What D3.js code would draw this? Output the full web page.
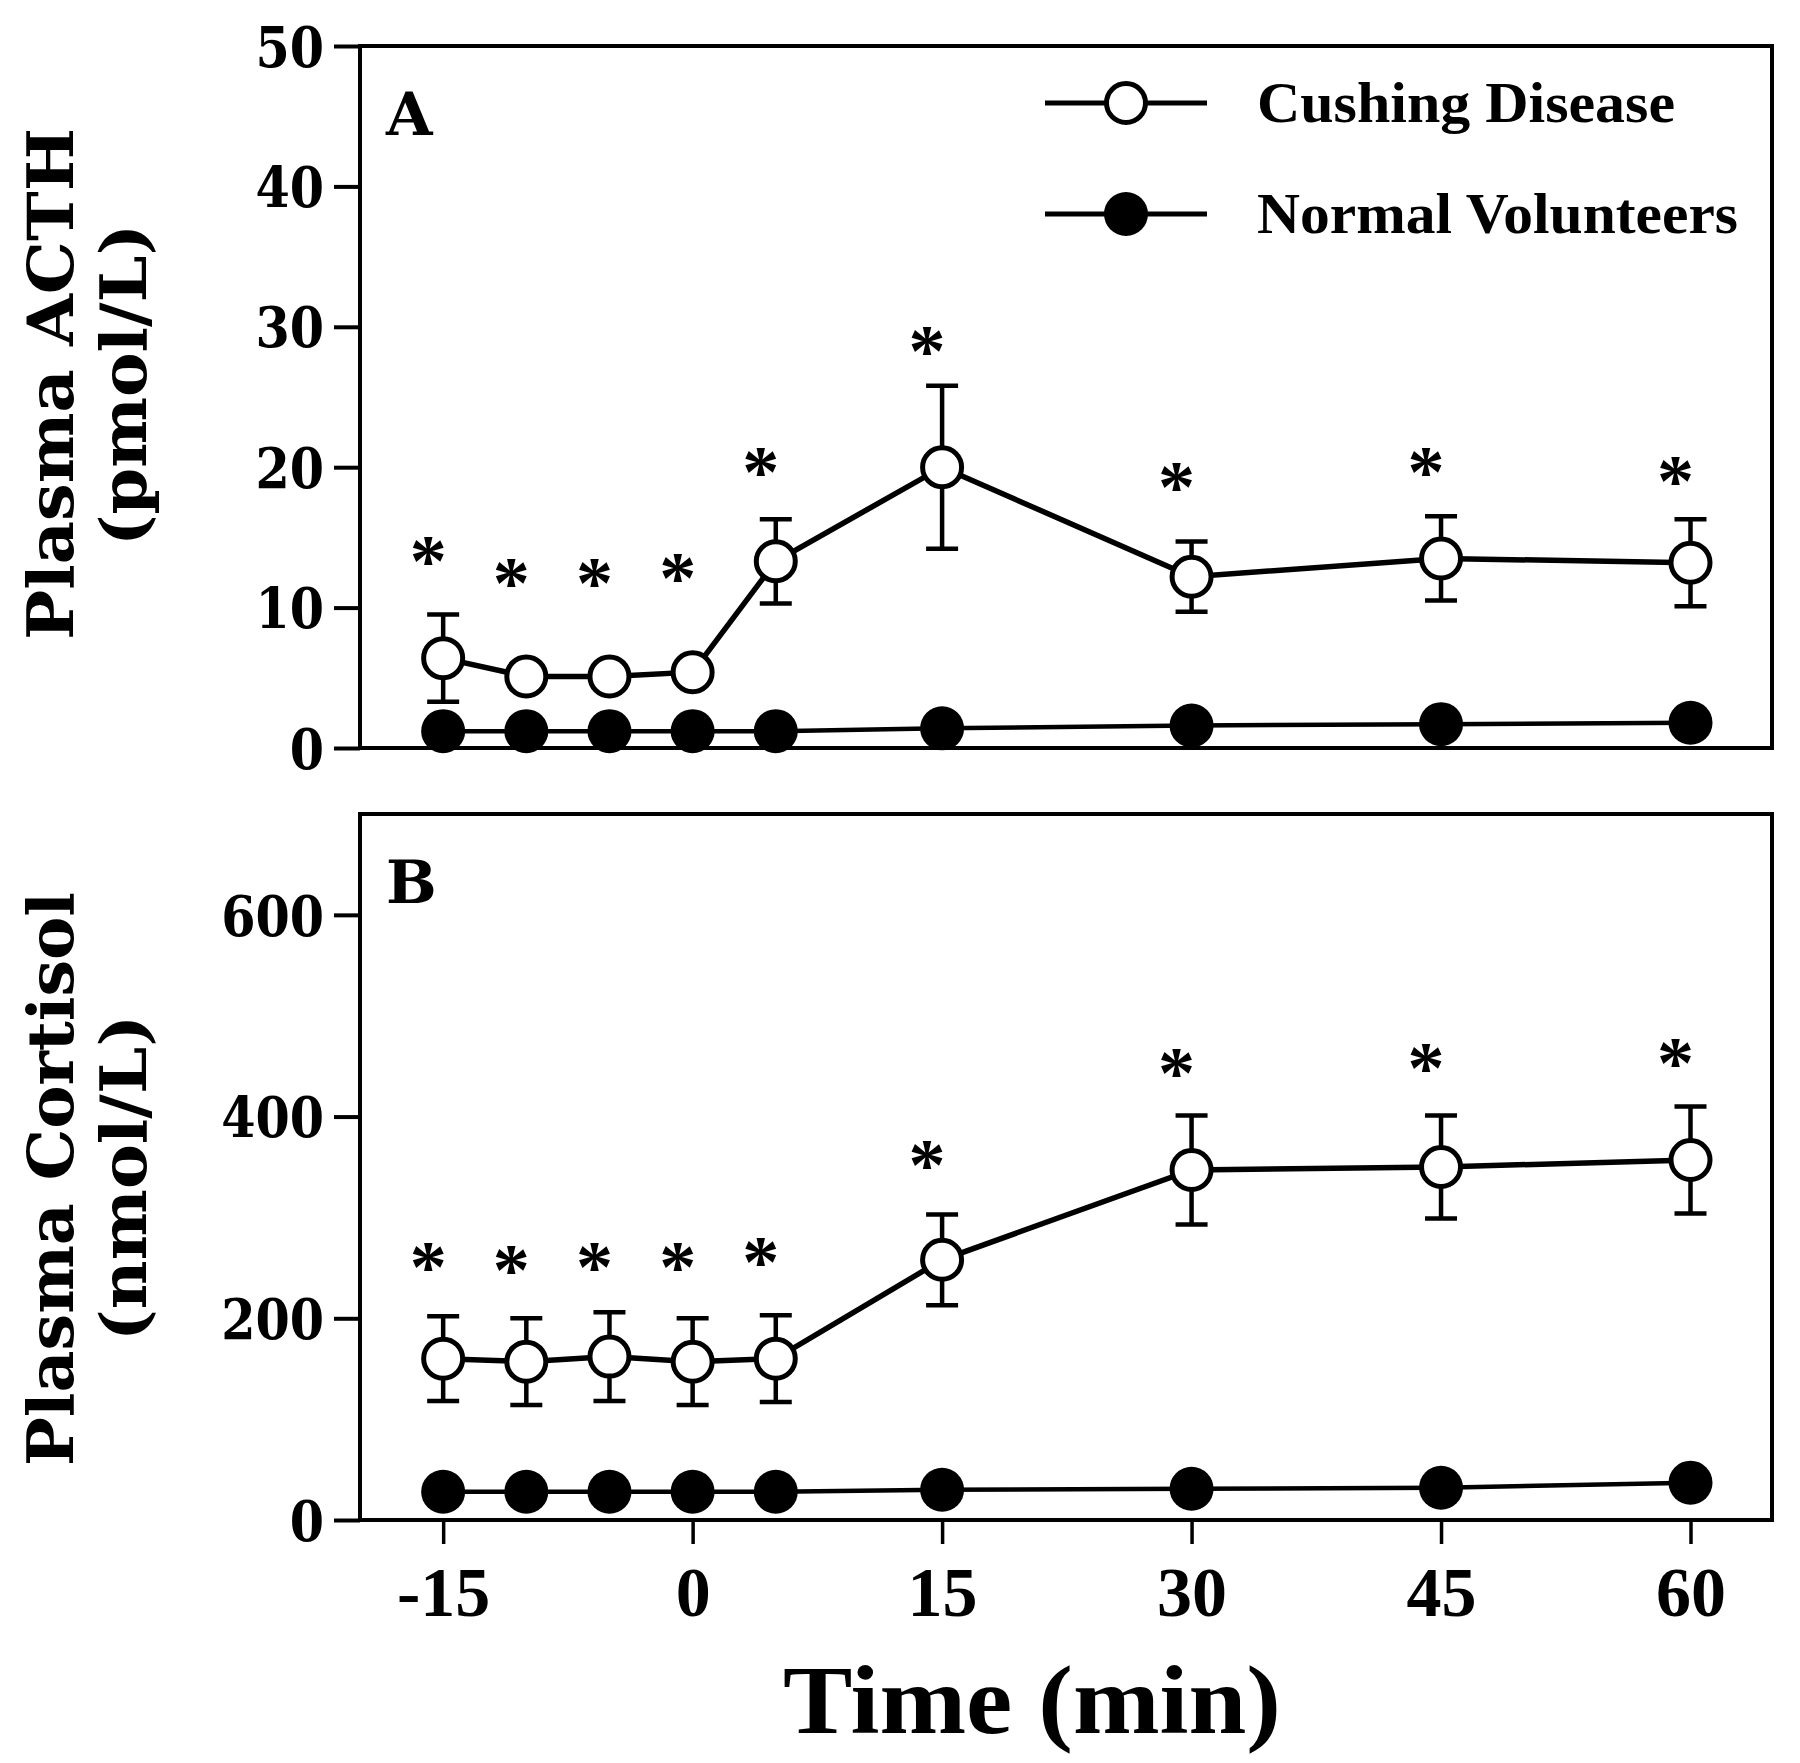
<!DOCTYPE html>
<html>
<head>
<meta charset="utf-8">
<script src="https://cdn.jsdelivr.net/npm/d3@7"></script>
<style>
  html, body { margin: 0; padding: 0; background: #fff; }
  svg { display: block; }
</style>
</head>
<body>
<svg id="chart" width="1800" height="1763"></svg>
<script>
// ---------- data ----------
const times = [-15, -10, -5, 0, 5, 15, 30, 45, 60];
const xTickValues = [-15, 0, 15, 30, 45, 60];

const acthCushing   = [6.4, 5.1, 5.1, 5.4, 13.3, 20.0, 12.2, 13.5, 13.2];
const acthCushingSE = [3.1, 0.8, 0.8, 0.8, 3.0, 5.8, 2.5, 3.0, 3.1];
const acthNormal    = [1.2, 1.2, 1.2, 1.2, 1.2, 1.4, 1.6, 1.7, 1.8];
const acthStars     = [14.0, 12.5, 12.5, 12.8, 20.4, 29.0, 19.3, 20.4, 19.7];
const acthTicks     = [0, 10, 20, 30, 40, 50];

const cortCushing   = [160, 157, 162, 157, 160, 258, 347, 350, 357];
const cortCushingSE = [42, 43, 44, 43, 43, 45, 54, 51, 53];
const cortNormal    = [28, 28, 28, 28, 28, 30, 31, 32, 37];
const cortStars     = [261, 258, 261, 261, 266, 362, 453, 458, 463];
const cortTicks     = [0, 200, 400, 600];

const seriesNames = ["Cushing Disease", "Normal Volunteers"];

// ---------- layout ----------
const svg = d3.select("#chart");
const serifWide = "'DejaVu Serif', serif";
const serifNarrow = "'Liberation Serif', 'Times New Roman', serif";

const x = d3.scaleLinear().domain([-20, 64.9]).range([360, 1772]);

const panels = [
  { id: "A", y: d3.scaleLinear().domain([0, 50]).range([748, 46]),
    ticks: acthTicks, cush: acthCushing, se: acthCushingSE, norm: acthNormal, stars: acthStars,
    title: ["Plasma  ACTH", "(pmol/L)"], titleLen: [512, 322], titleY: [384, 385], letterY: 135, legend: true, xAxis: false },
  { id: "B", y: d3.scaleLinear().domain([0, 700]).range([1520, 814]),
    ticks: cortTicks, cush: cortCushing, se: cortCushingSE, norm: cortNormal, stars: cortStars,
    title: ["Plasma  Cortisol", "(nmol/L)"], titleLen: [574, 326], titleY: [1179, 1178], letterY: 903, legend: false, xAxis: true }
];

const line = (ys) => d3.line().x((d, i) => x(times[i])).y(d => ys(d));
const yScaleX = 0.88;

panels.forEach(p => {
  const g = svg.append("g");
  const [y0, y1] = p.y.range();
  const [x0, x1] = x.range();

  // frame
  g.append("rect")
    .attr("x", x0).attr("y", y1).attr("width", x1 - x0).attr("height", y0 - y1)
    .attr("fill", "none").attr("stroke", "#000").attr("stroke-width", 4);

  // y axis
  const yAxis = d3.axisLeft(p.y).tickValues(p.ticks).tickSize(26).tickSizeOuter(0).tickPadding(8)
    .tickFormat(d => String(d));
  const ga = g.append("g").attr("transform", `translate(${x0},0)`).call(yAxis);
  ga.select(".domain").remove();
  ga.selectAll(".tick line").attr("stroke", "#000").attr("stroke-width", 4);
  ga.selectAll(".tick text")
    .attr("font-family", serifWide).attr("font-weight", "bold")
    .attr("font-size", 56).attr("fill", "#000").attr("dy", "0.36em")
    .attr("x", -36 / yScaleX).attr("transform", `scale(${yScaleX},1)`);

  // x axis (bottom panel only)
  if (p.xAxis) {
    const xAxis = d3.axisBottom(x).tickValues(xTickValues).tickSize(24).tickSizeOuter(0).tickPadding(22)
      .tickFormat(d => String(d));
    const gx = g.append("g").attr("transform", `translate(0,${y0})`).call(xAxis);
    gx.select(".domain").remove();
    gx.selectAll(".tick line").attr("stroke", "#000").attr("stroke-width", 3.5);
    gx.selectAll(".tick text")
      .attr("font-family", serifNarrow).attr("font-weight", "bold")
      .attr("font-size", 70).attr("fill", "#000").attr("dy", "0.71em");
  }

  // y title (two lines, rotated)
  p.title.forEach((t, k) => {
    g.append("text")
      .attr("transform", `translate(${k === 0 ? 73 : 146},${p.titleY[k]}) rotate(-90)`)
      .attr("text-anchor", "middle")
      .attr("font-family", serifWide).attr("font-weight", "bold")
      .attr("font-size", 64)
      .attr("textLength", p.titleLen[k]).attr("lengthAdjust", "spacingAndGlyphs")
      .text(t);
  });

  // panel letter
  g.append("text").attr("x", 386).attr("y", p.letterY)
    .attr("font-family", serifWide).attr("font-weight", "bold").attr("font-size", 60)
    .text(p.id);

  // lines
  g.append("path").datum(p.norm).attr("d", line(p.y))
    .attr("fill", "none").attr("stroke", "#000").attr("stroke-width", 4.5);
  g.append("path").datum(p.cush).attr("d", line(p.y))
    .attr("fill", "none").attr("stroke", "#000").attr("stroke-width", 5.5);

  // error bars
  const eb = g.append("g").attr("stroke", "#000").attr("stroke-width", 4.5);
  p.cush.forEach((v, i) => {
    const cx = x(times[i]);
    const top = p.y(v + p.se[i]), bot = p.y(v - p.se[i]);
    eb.append("line").attr("x1", cx).attr("x2", cx).attr("y1", top).attr("y2", bot);
    eb.append("line").attr("x1", cx - 16).attr("x2", cx + 16).attr("y1", top).attr("y2", top);
    eb.append("line").attr("x1", cx - 16).attr("x2", cx + 16).attr("y1", bot).attr("y2", bot);
  });

  // markers
  g.selectAll(null).data(p.norm).enter().append("circle")
    .attr("cx", (d, i) => x(times[i])).attr("cy", d => p.y(d)).attr("r", 22)
    .attr("fill", "#000");
  g.selectAll(null).data(p.cush).enter().append("circle")
    .attr("cx", (d, i) => x(times[i])).attr("cy", d => p.y(d)).attr("r", 19.5)
    .attr("fill", "#fff").attr("stroke", "#000").attr("stroke-width", 5);

  // significance stars
  g.selectAll(null).data(p.stars).enter().append("text")
    .attr("x", (d, i) => x(times[i]) - 15).attr("y", d => p.y(d) + 35)
    .attr("text-anchor", "middle")
    .attr("font-family", serifNarrow).attr("font-weight", "bold").attr("font-size", 74)
    .text("*");

  // legend
  if (p.legend) {
    const rows = [103, 214];
    rows.forEach((ry, k) => {
      g.append("line").attr("x1", 1045).attr("x2", 1207).attr("y1", ry).attr("y2", ry)
        .attr("stroke", "#000").attr("stroke-width", 5);
      g.append("circle").attr("cx", 1126).attr("cy", ry).attr("r", k === 0 ? 19.5 : 22)
        .attr("fill", k === 0 ? "#fff" : "#000")
        .attr("stroke", "#000").attr("stroke-width", k === 0 ? 5 : 0);
      g.append("text").attr("x", 1257).attr("y", ry + 19)
        .attr("font-family", serifNarrow).attr("font-weight", "bold").attr("font-size", 57)
        .attr("textLength", k === 0 ? 418 : 481).attr("lengthAdjust", "spacingAndGlyphs")
        .text(seriesNames[k]);
    });
  }
});

// x title
svg.append("text").attr("x", 1032).attr("y", 1733)
  .attr("text-anchor", "middle")
  .attr("font-family", serifNarrow).attr("font-weight", "bold").attr("font-size", 98)
  .attr("textLength", 498).attr("lengthAdjust", "spacingAndGlyphs")
  .text("Time (min)");
</script>
</body>
</html>
